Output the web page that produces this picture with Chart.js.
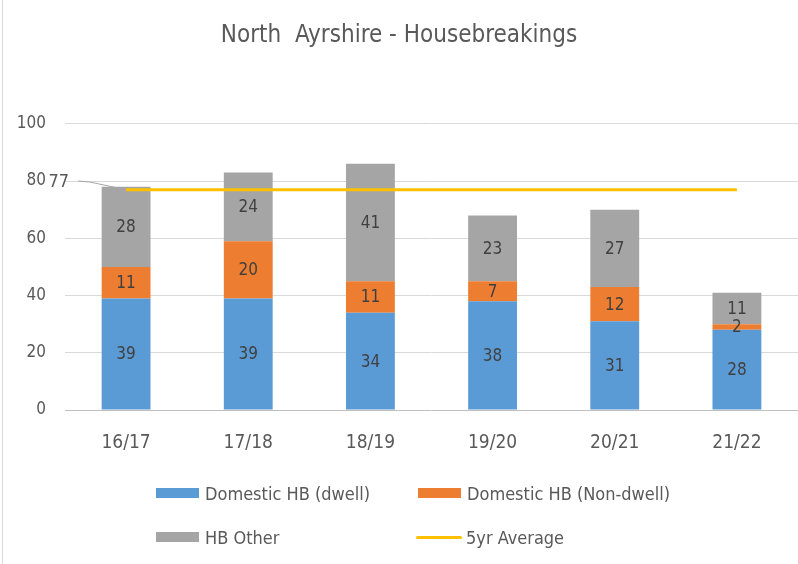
<!DOCTYPE html>
<html>
<head>
<meta charset="utf-8">
<script src="https://cdn.jsdelivr.net/npm/chart.js@4"></script>
<style>
  html, body { margin: 0; padding: 0; background: #fff; }
  #wrap { position: relative; width: 798px; height: 564px; }
  #wrap:before { content: ""; position: absolute; left: 2px; top: 0; bottom: 0; width: 1px; background: #d9d9d9; }
  #legend { position: absolute; left: 0; top: 0; width: 798px; height: 564px; pointer-events: none;
            font-family: "Liberation Sans Narrow", "DejaVu Sans Condensed", sans-serif; font-size: 18px; color: #595959; }
  .item { position: absolute; display: flex; align-items: center; }
  .box { width: 43px; height: 10px; margin-right: 6px; }
  .ln { width: 46px; height: 3px; margin-right: 4px; border-radius: 2px; }
</style>
</head>
<body>
<div id="wrap">
  <canvas id="grafico" width="798" height="564"></canvas>
  <div id="legend"></div>
</div>
<script>
// ====================
// Datos
// ====================
const years = ["16/17", "17/18", "18/19", "19/20", "20/21", "21/22"];
const dwell = [39, 39, 34, 38, 31, 28];
const nonDwell = [11, 20, 11, 7, 12, 2];
const hbOther = [28, 24, 41, 23, 27, 11];
const average = [77, 77, 77, 77, 77, 77];
const yTicks = [0, 20, 40, 60, 80, 100];

const font = "'Liberation Sans Narrow', 'DejaVu Sans Condensed', sans-serif";
const grey = "#595959";

// etiquetas dentro de las barras
const barLabels = {
    id: "barLabels",
    afterDatasetsDraw(chart) {
        const ctx = chart.ctx;
        ctx.save();
        ctx.font = "17px " + font;
        ctx.fillStyle = "#404040";
        ctx.textAlign = "center";
        ctx.textBaseline = "middle";
        chart.data.datasets.forEach((ds, i) => {
            if (ds.type === "line") return;
            chart.getDatasetMeta(i).data.forEach((bar, j) => {
                ctx.fillText(ds.data[j], bar.x, (bar.y + bar.base) / 2 + 1);
            });
        });
        // etiqueta del promedio con línea guía
        const x0 = chart.scales.x.getPixelForValue(0);
        const yAvg = chart.scales.y.getPixelForValue(average[0]);
        const y80 = chart.scales.y.getPixelForValue(80);
        ctx.font = "18px " + font;
        ctx.textAlign = "right";
        ctx.fillStyle = grey;
        ctx.fillText(average[0], x0 - 57, y80 + 1);
        ctx.strokeStyle = "#a6a6a6";
        ctx.lineWidth = 1;
        ctx.beginPath();
        ctx.moveTo(x0 - 48, y80);
        ctx.lineTo(x0 - 36, y80 + 1);
        ctx.lineTo(x0 - 10, yAvg - 2);
        ctx.stroke();
        ctx.restore();
    }
};

const ctxGrafico = document.getElementById("grafico");
const chart = new Chart(ctxGrafico, {
    type: "bar",
    data: {
        labels: years,
        datasets: [
            {
                type: "line",
                label: "5yr Average",
                data: average,
                borderColor: "#FFC000",
                backgroundColor: "#FFC000",
                borderWidth: 3,
                pointRadius: 0,
                order: 0
            },
            { label: "Domestic HB (dwell)", data: dwell, backgroundColor: "#5B9BD5", order: 1 },
            { label: "Domestic HB (Non-dwell)", data: nonDwell, backgroundColor: "#ED7D31", order: 1 },
            { label: "HB Other", data: hbOther, backgroundColor: "#A5A5A5", order: 1 }
        ]
    },
    options: {
        responsive: false,
        animation: false,
        layout: { padding: { left: 0, right: 0, top: 0, bottom: 0 } },
        datasets: { bar: { categoryPercentage: 1, barPercentage: 0.4 } },
        scales: {
            x: {
                stacked: true,
                grid: { display: false },
                border: { display: false },
                ticks: { color: grey, font: { family: font, size: 19 }, padding: 14 },
                afterFit(scale) { scale.height = 154; }
            },
            y: {
                stacked: true,
                min: 0,
                max: 100,
                afterBuildTicks(scale) { scale.ticks = yTicks.map(v => ({ value: v })); },
                grid: {
                    drawTicks: false,
                    color: ctx => ctx.tick && ctx.tick.value === 0 ? "#bfbfbf" : "#d9d9d9"
                },
                border: { display: false },
                ticks: { color: grey, font: { family: font, size: 17 }, padding: 19 },
                afterFit(scale) { scale.width = 65; }
            }
        },
        plugins: {
            legend: { display: false },
            tooltip: { enabled: false },
            title: {
                display: true,
                text: "North  Ayrshire - Housebreakings",
                color: grey,
                font: { family: font, size: 24, weight: "normal" },
                padding: { top: 21, bottom: 74 }
            }
        }
    },
    plugins: [barLabels]
});

// leyenda en dos filas
const legendPos = [
    { ds: 1, x: 156, y: 493 },
    { ds: 2, x: 418, y: 493 },
    { ds: 3, x: 156, y: 537 },
    { ds: 0, x: 416, y: 537 }
];
const legend = document.getElementById("legend");
legendPos.forEach(p => {
    const ds = chart.data.datasets[p.ds];
    const item = document.createElement("div");
    item.className = "item";
    item.style.left = p.x + "px";
    item.style.top = (p.y - 12) + "px";
    item.style.height = "24px";
    const mark = document.createElement("span");
    mark.className = ds.type === "line" ? "ln" : "box";
    mark.style.background = ds.type === "line" ? ds.borderColor : ds.backgroundColor;
    const txt = document.createElement("span");
    txt.textContent = ds.label;
    item.appendChild(mark);
    item.appendChild(txt);
    legend.appendChild(item);
});
</script>
</body>
</html>
